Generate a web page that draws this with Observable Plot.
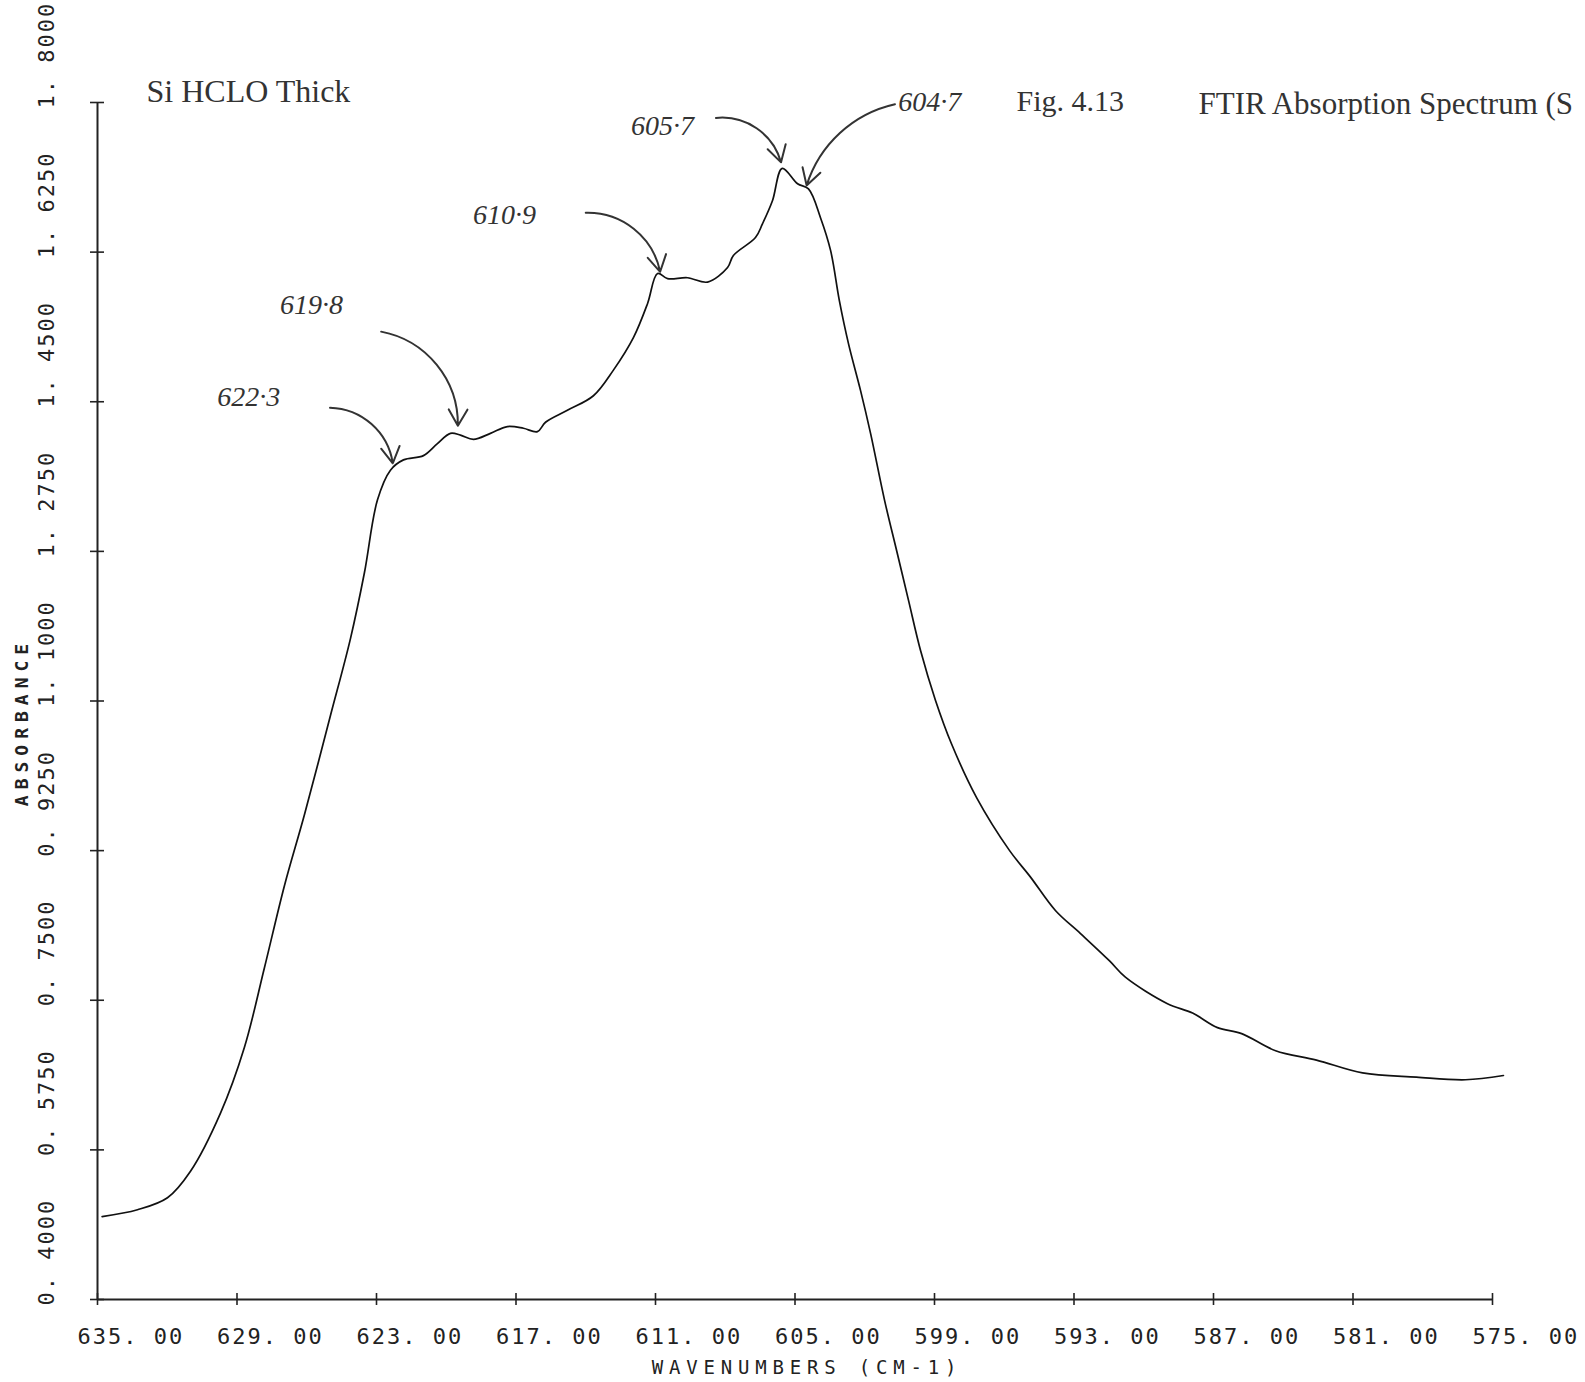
<!DOCTYPE html>
<html><head><meta charset="utf-8">
<script src="https://cdn.jsdelivr.net/npm/d3@7"></script>
<script src="https://cdn.jsdelivr.net/npm/@observablehq/plot@0.6"></script>
<style>
body{margin:0;background:#fff}
#chart svg{display:block}
</style>
</head><body><div id="chart"></div>
<script>
// ---- data ----
const wavenumbers = [634.80,633.28,631.99,631.00,629.71,628.68,627.82,626.96,626.10,624.98,624.12,623.52,622.96,622.40,621.84,620.98,620.38,619.82,619.39,618.83,618.10,617.37,616.68,616.08,615.73,614.79,613.67,612.81,611.95,611.34,610.91,610.48,609.62,608.76,607.90,607.65,606.70,606.40,605.97,605.55,604.89,604.42,603.90,603.47,603.09,602.70,602.18,601.75,601.15,600.63,600.12,599.60,598.96,598.27,597.19,595.77,594.87,593.80,592.72,591.47,590.79,588.98,587.90,586.83,585.79,584.33,582.57,580.59,578.27,576.16,574.53];
const absorbance = [0.497,0.505,0.519,0.550,0.618,0.695,0.788,0.884,0.967,1.083,1.173,1.250,1.335,1.370,1.382,1.387,1.401,1.413,1.411,1.406,1.413,1.421,1.419,1.415,1.426,1.440,1.457,1.487,1.525,1.565,1.600,1.594,1.595,1.590,1.607,1.621,1.642,1.658,1.685,1.723,1.705,1.699,1.665,1.627,1.568,1.518,1.463,1.413,1.335,1.276,1.218,1.159,1.101,1.050,0.987,0.925,0.894,0.855,0.828,0.796,0.777,0.746,0.735,0.718,0.711,0.691,0.680,0.665,0.660,0.657,0.662];
const xTicks = [635,629,623,617,611,605,599,593,587,581,575];
const yTicks = [0.4,0.575,0.75,0.925,1.1,1.275,1.45,1.625,1.8];
const xTitle = "WAVENUMBERS (CM-1)";
const yTitle = "ABSORBANCE";
const sampleLabel = "Si HCLO Thick";
const figLabel = "Fig. 4.13";
const figTitle = "FTIR Absorption Spectrum (S";
// handwritten peak annotations (data units)
const peakLabels = ["622·3","619·8","610·9","605·7","604·7"];
const peakLabelX = [628.5,625.8,617.5,610.7,599.2];
const peakLabelY = [1.455,1.563,1.668,1.772,1.801];
const arrowFromX = [625.0,622.8,614.0,608.4,600.7];
const arrowFromY = [1.443,1.532,1.671,1.782,1.798];
const arrowToX = [622.3,619.5,610.8,605.6,604.5];
const arrowToY = [1.378,1.422,1.602,1.730,1.703];

const spectrum = wavenumbers.map((w, i) => ({w, a: absorbance[i]}));
const notes = peakLabels.map((t, i) => ({t, lx: peakLabelX[i], ly: peakLabelY[i], x1: arrowFromX[i], y1: arrowFromY[i], x2: arrowToX[i], y2: arrowToY[i], i}));

const plotter = "DejaVu Sans Mono";
const serif = "Liberation Serif";
const fmtY = d => d.toFixed(4).replace(".", ". ");
const fmtX = d => d.toFixed(2).replace(".", ". ");

const chart = Plot.plot({
  width: 1585,
  height: 1382,
  marginLeft: 97,
  marginRight: 93,
  marginTop: 102,
  marginBottom: 83,
  style: {background: "#fff", overflow: "visible"},
  x: {domain: [635, 575], axis: null},
  y: {domain: [0.4, 1.8], axis: null},
  marks: [
    // axis lines
    Plot.ruleX([635], {stroke: "#222", strokeWidth: 2}),
    Plot.ruleY([0.4], {stroke: "#222", strokeWidth: 2}),
    // cross ticks
    Plot.axisY(yTicks, {anchor: "left", tickSize: 14, dx: 7, tickFormat: () => "", label: null, stroke: "#222", strokeWidth: 1.6}),
    Plot.axisX(xTicks, {anchor: "bottom", tickSize: 12, dy: -6, tickFormat: () => "", label: null, stroke: "#222", strokeWidth: 1.6}),
    // tick labels
    Plot.text(yTicks, {x: 635, y: d => d, text: fmtY, rotate: -90, textAnchor: "start", lineAnchor: "middle", dx: -51, dy: 6,
      fontFamily: plotter, fontSize: 22, fill: "#222"}),
    Plot.text(xTicks, {x: d => d, y: 0.4, text: fmtX, textAnchor: "start", lineAnchor: "middle", dx: -20, dy: 37,
      fontFamily: plotter, fontSize: 22, fill: "#222"}),
    // axis titles
    Plot.text([yTitle], {frameAnchor: "left", rotate: -90, dx: -75, dy: 21, text: d => d, textAnchor: "middle", lineAnchor: "middle",
      fontFamily: plotter, fontSize: 18, fontWeight: "bold", fill: "#222"}),
    Plot.text([xTitle], {frameAnchor: "bottom", dx: 12, dy: 68, text: d => d, textAnchor: "middle", lineAnchor: "middle",
      fontFamily: plotter, fontSize: 19, fill: "#222"}),
    // spectrum
    Plot.line(spectrum, {x: "w", y: "a", stroke: "#111", strokeWidth: 1.7, strokeLinejoin: "round", curve: "catmull-rom"}),
    // printed labels
    Plot.text([sampleLabel], {frameAnchor: "top-left", dx: 49, dy: -11, text: d => d, textAnchor: "start", lineAnchor: "middle",
      fontFamily: serif, fontSize: 32, fill: "#333"}),
    Plot.text([figLabel], {frameAnchor: "top-left", dx: 919, dy: -1, text: d => d, textAnchor: "start", lineAnchor: "middle",
      fontFamily: serif, fontSize: 30, fill: "#333"}),
    Plot.text([figTitle], {frameAnchor: "top-left", dx: 1101, dy: 2, text: d => d, textAnchor: "start", lineAnchor: "middle",
      fontFamily: serif, fontSize: 31, fill: "#333"}),
    // handwritten annotations
    Plot.text(notes, {x: "lx", y: "ly", text: "t", fontFamily: serif, fontStyle: "italic", fontSize: 28, fill: "#333"}),
    Plot.arrow(notes, {filter: d => d.i < 4, x1: "x1", y1: "y1", x2: "x2", y2: "y2", bend: 40, headLength: 14, stroke: "#333", strokeWidth: 2}),
    Plot.arrow(notes, {filter: d => d.i === 4, x1: "x1", y1: "y1", x2: "x2", y2: "y2", bend: -30, headLength: 14, stroke: "#333", strokeWidth: 2})
  ]
});

// plotter-style wide lettering
const tickTexts = new Set([...yTicks.map(fmtY), ...xTicks.map(fmtX)]);
d3.select(chart).selectAll("text").each(function () {
  const t = this.textContent;
  if (tickTexts.has(t)) this.style.letterSpacing = "2px";
  else if (t === yTitle) this.style.letterSpacing = "6px";
  else if (t === xTitle) this.style.letterSpacing = "5.8px";
});
document.getElementById("chart").appendChild(chart);
</script>
</body></html>
